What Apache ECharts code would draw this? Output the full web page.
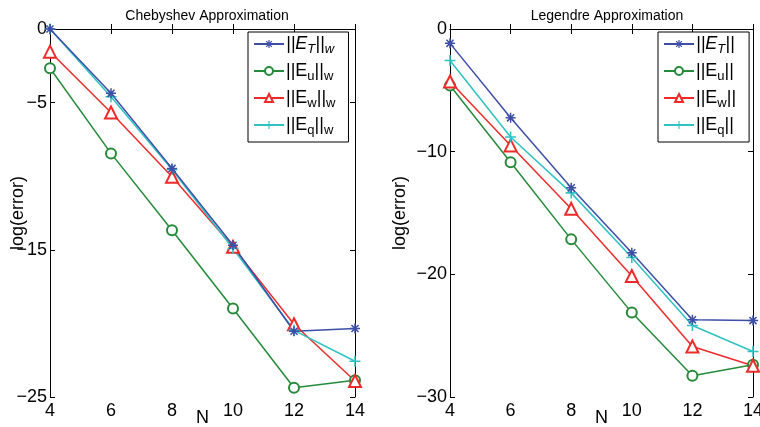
<!DOCTYPE html>
<html>
<head>
<meta charset="utf-8">
<script src="https://cdn.jsdelivr.net/npm/echarts@6/dist/echarts.min.js"></script>
<style>
  html, body { margin: 0; padding: 0; background: #fff; }
  #chart { width: 760px; height: 427px; }
</style>
</head>
<body>
<div id="chart"></div>
<script>
// polynomial degree
var N = [4, 6, 8, 10, 12, 14];

// Chebyshev approximation, log(error)
var chebET = [0, -4.37, -9.47, -14.69, -20.53, -20.35];
var chebEu = [-2.67, -8.45, -13.67, -18.99, -24.37, -23.87];
var chebEw = [-1.54, -5.67, -10.04, -14.8, -20.06, -23.91];
var chebEq = [0, -4.6, -9.54, -14.91, -20.47, -22.57];

// Legendre approximation, log(error)
var legET = [-1.17, -7.24, -12.95, -18.24, -23.71, -23.77];
var legEu = [-4.6, -10.87, -17.15, -23.12, -28.27, -27.37];
var legEw = [-4.28, -9.49, -14.66, -20.14, -25.88, -27.45];
var legEq = [-2.57, -8.81, -13.36, -18.62, -24.17, -26.29];

var chebTicks = [0, -5, -15, -25];
var legTicks = [0, -10, -20, -30];

var FONT = 'Liberation Sans';
var BLUE = '#3d4ea6', GREEN = '#268a3a', RED = '#ee2b2b', CYAN = '#2ec2c2';

// matlab style markers
var STAR = 'path://M-1.5,-10L1.5,-10L1.5,10L-1.5,10Z M-10,-1.5L10,-1.5L10,1.5L-10,1.5Z ' +
  'M-8.13,-6L-6,-8.13L8.13,6L6,8.13Z M-6,8.13L-8.13,6L6,-8.13L8.13,-6Z';
var PLUS = 'path://M-1.4,-10L1.4,-10L1.4,10L-1.4,10Z M-10,-1.4L10,-1.4L10,1.4L-10,1.4Z';

var labels = {
  ETw: '{i|||E}{is|T}{i|||}{is|w}',
  Euw: '{n|||E}{s|u}{n|||}{s|w}',
  Eww: '{n|||E}{s|w}{n|||}{s|w}',
  Eqw: '{n|||E}{s|q}{n|||}{s|w}',
  ET: '{i|||E}{is|T}{i|||}',
  Eu: '{n|||E}{s|u}{n|||}',
  Ew: '{n|||E}{s|w}{n|||}',
  Eq: '{n|||E}{s|q}{n|||}'
};

var rich = {
  n: { fontSize: 18, fontFamily: FONT, color: '#000' },
  s: { fontSize: 13, fontFamily: FONT, color: '#000', padding: [11, 0, 0, 0] },
  i: { fontSize: 18, fontFamily: FONT, fontStyle: 'italic', color: '#000' },
  is: { fontSize: 13, fontFamily: FONT, fontStyle: 'italic', color: '#000', padding: [11, 0, 0, 0] }
};

function pairs(ys) {
  return N.map(function (x, i) { return [x, ys[i]]; });
}

function minus(v) {
  return String(v).replace('-', '\u2212');
}

function xAxes(grid) {
  var base = {
    type: 'value', gridIndex: grid, min: 4, max: 14, interval: 2,
    axisLine: { lineStyle: { color: '#000', width: 1 } },
    axisTick: { inside: true, length: 5, lineStyle: { color: '#000' } },
    splitLine: { show: false }
  };
  return [
    Object.assign({}, base, {
      position: 'bottom',
      name: 'N', nameLocation: 'middle', nameGap: 12, nameMoveOverlap: false,
      nameTextStyle: { fontSize: 18, fontFamily: FONT, color: '#000' },
      axisLabel: { fontSize: 18, fontFamily: FONT, color: '#000', margin: 5 }
    }),
    Object.assign({}, base, { position: 'top', axisLabel: { show: false } })
  ];
}

function yAxes(grid, min, ticks, gap) {
  var base = {
    type: 'value', gridIndex: grid, min: min, max: 0,
    axisLine: { show: true, lineStyle: { color: '#000', width: 1 } },
    axisTick: { show: true, inside: true, length: 5, customValues: ticks, lineStyle: { color: '#000' } },
    splitLine: { show: false }
  };
  return [
    Object.assign({}, base, {
      position: 'left',
      name: 'log(error)', nameLocation: 'middle', nameGap: gap, nameRotate: 90,
      nameMoveOverlap: false,
      nameTextStyle: { fontSize: 18, fontFamily: FONT, color: '#000' },
      axisLabel: { fontSize: 18, fontFamily: FONT, color: '#000', margin: 3,
        customValues: ticks, formatter: minus }
    }),
    Object.assign({}, base, { position: 'right', axisLabel: { show: false } })
  ];
}

function line(name, ys, axis, color, symbol, size, bw) {
  return {
    name: name, type: 'line', data: pairs(ys),
    xAxisIndex: axis, yAxisIndex: axis,
    color: color, symbol: symbol, symbolSize: size,
    showAllSymbol: true, clip: false, animation: false,
    lineStyle: { width: 1.5, color: color },
    itemStyle: { color: color, borderColor: color, borderWidth: bw }
  };
}

function legend(left, names) {
  return {
    data: names, orient: 'vertical', left: left, top: 32,
    backgroundColor: '#fff', borderColor: '#000', borderWidth: 1,
    padding: [3, 13, 5, 5], itemGap: 6, itemWidth: 30, itemHeight: 10,
    formatter: function (n) { return labels[n]; },
    textStyle: { rich: rich, padding: [0, 0, 0, -3] },
    selectedMode: false
  };
}

var chart = echarts.init(document.getElementById('chart'));

chart.setOption({
  animation: false,
  backgroundColor: '#fff',
  title: [
    { text: 'Chebyshev Approximation', left: 202, top: 4, textAlign: 'center',
      textStyle: { fontSize: 14, fontWeight: 'normal', fontFamily: FONT, color: '#000' } },
    { text: 'Legendre Approximation', left: 602, top: 4, textAlign: 'center',
      textStyle: { fontSize: 14, fontWeight: 'normal', fontFamily: FONT, color: '#000' } }
  ],
  grid: [
    { left: 50, right: 405, top: 29, bottom: 30, outerBoundsMode: 'none', containLabel: false },
    { left: 450, right: 7, top: 29, bottom: 30, outerBoundsMode: 'none', containLabel: false }
  ],
  xAxis: xAxes(0).concat(xAxes(1)),
  yAxis: yAxes(0, -25, chebTicks, 23).concat(yAxes(1, -30, legTicks, 41)),
  legend: [
    legend(248, ['ETw', 'Euw', 'Eww', 'Eqw']),
    legend(658, ['ET', 'Eu', 'Ew', 'Eq'])
  ],
  series: [
    line('Euw', chebEu, 0, GREEN, 'emptyCircle', 10, 1.3),
    line('Eww', chebEw, 0, RED, 'emptyTriangle', 12, 1.3),
    line('Eqw', chebEq, 0, CYAN, PLUS, 11, 0),
    line('ETw', chebET, 0, BLUE, STAR, 10, 0),
    line('Eu', legEu, 2, GREEN, 'emptyCircle', 10, 1.3),
    line('Ew', legEw, 2, RED, 'emptyTriangle', 12, 1.3),
    line('Eq', legEq, 2, CYAN, PLUS, 11, 0),
    line('ET', legET, 2, BLUE, STAR, 10, 0)
  ]
});
</script>
</body>
</html>
